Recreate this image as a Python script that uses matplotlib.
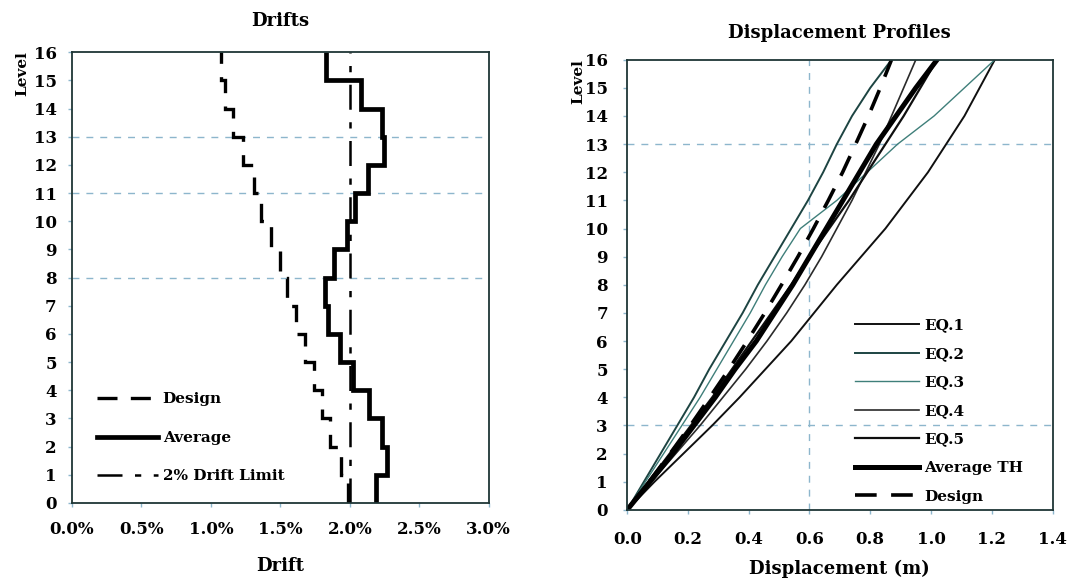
import numpy as np
import matplotlib
matplotlib.use("Agg")
import matplotlib.pyplot as plt
from matplotlib.ticker import FuncFormatter, MultipleLocator

# story drifts (%) for stories 0-1 ... 15-16
levels = np.arange(0, 17)
design_drift = [1.99, 1.94, 1.86, 1.80, 1.74, 1.68, 1.61, 1.55,
                1.50, 1.43, 1.36, 1.31, 1.23, 1.16, 1.10, 1.07]
average_drift = [2.19, 2.27, 2.23, 2.14, 2.02, 1.93, 1.84, 1.82,
                 1.89, 1.98, 2.04, 2.13, 2.25, 2.23, 2.08, 1.83]
drift_limit = 2.0

# floor displacements (m) at levels 0..16
eq1 = [0, 0.09, 0.185, 0.28, 0.37, 0.455, 0.54, 0.615, 0.69,
       0.77, 0.85, 0.92, 0.99, 1.05, 1.11, 1.16, 1.21]
eq2 = [0, 0.055, 0.11, 0.165, 0.22, 0.27, 0.325, 0.38, 0.43,
       0.485, 0.54, 0.595, 0.645, 0.69, 0.74, 0.80, 0.87]
eq3 = [0, 0.06, 0.12, 0.18, 0.24, 0.295, 0.35, 0.405, 0.455,
       0.51, 0.57, 0.69, 0.79, 0.89, 1.01, 1.11, 1.21]
eq4 = [0, 0.08, 0.16, 0.24, 0.315, 0.39, 0.46, 0.525, 0.585,
       0.64, 0.69, 0.74, 0.785, 0.83, 0.87, 0.91, 0.95]
eq5 = [0, 0.07, 0.14, 0.21, 0.28, 0.345, 0.41, 0.475, 0.54,
       0.60, 0.665, 0.73, 0.79, 0.85, 0.91, 0.965, 1.02]
avg_th = [0, 0.075, 0.15, 0.22, 0.29, 0.355, 0.425, 0.485, 0.545,
          0.60, 0.655, 0.71, 0.765, 0.82, 0.885, 0.95, 1.02]
design_disp = [0, 0.072, 0.141, 0.208, 0.272, 0.335, 0.395, 0.453, 0.508,
               0.562, 0.613, 0.662, 0.709, 0.752, 0.794, 0.833, 0.87]

plt.rcParams['font.family'] = ['DejaVu Serif']
plt.rcParams['font.weight'] = 'bold'

frame = '#1f3636'
gridc = '#8db6cc'
tick_fs = 12
leg_prop = {'weight': 'bold', 'size': 11}

fig = plt.figure(figsize=(10.74, 5.8), dpi=100)
ax1 = fig.add_axes([0.067, 0.133, 0.388, 0.777])
ax2 = fig.add_axes([0.584, 0.121, 0.396, 0.776])

for ax in (ax1, ax2):
    for s in ax.spines.values():
        s.set_color(frame)
        s.set_linewidth(1.3)
    ax.tick_params(direction='out', length=3, width=1, color=gridc,
                   labelsize=tick_fs)
    ax.set_ylim(0, 16)
    ax.yaxis.set_major_locator(MultipleLocator(1))

# ---- Drifts ----
for lv in [8, 11, 13]:
    ax1.axhline(lv, color=gridc, lw=1, ls=(0, (5, 5)), zorder=1)
ax1.stairs(design_drift, levels, orientation='horizontal', baseline=None,
           color='black', lw=2.4, ls=(0, (6, 4)), label='Design')
ax1.stairs(average_drift, levels, orientation='horizontal', baseline=None,
           color='black', lw=3.4, label='Average')
ax1.axvline(drift_limit, color='black', lw=1.8, ls=(0, (10, 5, 2.5, 5)),
            label='2% Drift Limit')
ax1.set_xlim(0, 3.0)
ax1.xaxis.set_major_locator(MultipleLocator(0.5))
ax1.xaxis.set_major_formatter(FuncFormatter(lambda v, p: '%.1f%%' % v))
ax1.tick_params(axis='x', pad=10)
ax1.tick_params(axis='y', pad=8)
ax1.set_title('Drifts', fontweight='bold', fontsize=13, pad=19)
ax1.set_xlabel('Drift', fontweight='bold', fontsize=13, labelpad=14)
ax1.legend(loc='upper left', bbox_to_anchor=(0.06, 0.245), frameon=False,
           borderaxespad=0, borderpad=0, handlelength=4.0,
           labelspacing=1.6, handletextpad=0.3, prop=leg_prop)
fig.text(0.021, 0.874, 'Level', rotation=90, ha='center', va='center',
         fontweight='bold', fontsize=11)

# ---- Displacement Profiles ----
ax2.axhline(13, color=gridc, lw=1, ls=(0, (5, 5)), zorder=1)
ax2.axhline(3, color=gridc, lw=1, ls=(0, (5, 5)), zorder=1)
ax2.axvline(0.6, color=gridc, lw=1, ls=(0, (5, 5)), zorder=1)
ax2.plot(eq1, levels, color='#101010', lw=1.4, label='EQ.1')
ax2.plot(eq2, levels, color='#1d4442', lw=1.4, label='EQ.2')
ax2.plot(eq3, levels, color='#3f7f7a', lw=1.0, label='EQ.3')
ax2.plot(eq4, levels, color='#2a2a2a', lw=1.2, label='EQ.4')
ax2.plot(eq5, levels, color='#0e0e0e', lw=1.6, label='EQ.5')
ax2.plot(avg_th, levels, color='black', lw=3.6, label='Average TH')
ax2.plot(design_disp, levels, color='black', lw=2.6, ls=(0, (6, 4)),
         label='Design')
ax2.set_xlim(0, 1.4)
ax2.xaxis.set_major_locator(MultipleLocator(0.2))
ax2.xaxis.set_major_formatter(FuncFormatter(lambda v, p: '%.1f' % v))
ax2.tick_params(axis='x', pad=12)
ax2.tick_params(axis='y', pad=11)
ax2.set_title('Displacement Profiles', fontweight='bold', fontsize=13, pad=16)
ax2.set_xlabel('Displacement (m)', fontweight='bold', fontsize=13,
               labelpad=9)
ax2.legend(loc='upper left', bbox_to_anchor=(0.536, 0.425), frameon=False,
           borderaxespad=0, borderpad=0, handlelength=4.2,
           labelspacing=0.95, handletextpad=0.3, prop=leg_prop)
fig.text(0.538, 0.86, 'Level', rotation=90, ha='center', va='center',
         fontweight='bold', fontsize=11)

fig.savefig('out.png', dpi=100)
